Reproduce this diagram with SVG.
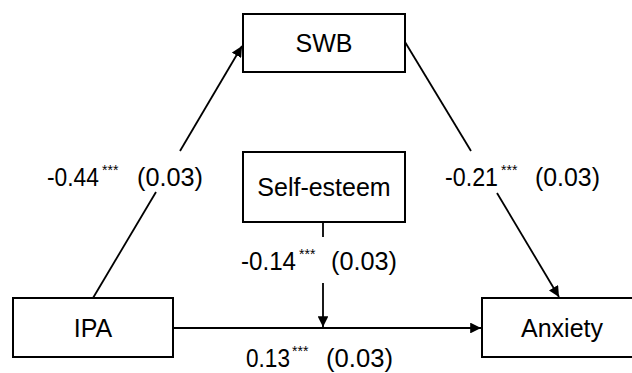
<svg xmlns="http://www.w3.org/2000/svg" width="632" height="373" viewBox="0 0 632 373">
  <defs>
    <marker id="arr" viewBox="0 0 10 10" refX="10" refY="5" markerWidth="6" markerHeight="6" markerUnits="strokeWidth" orient="auto">
      <path d="M0,0 L10,5 L0,10 z" fill="#000"/>
    </marker>
    <style>
      .box { fill: #fff; stroke: #000; stroke-width: 2; }
      .lbl { font-family: "Liberation Sans", Arial, sans-serif; font-size: 25px; fill: #000; }
      .coef { font-family: "Liberation Sans", Arial, sans-serif; font-size: 26px; fill: #000; }
      .sup { font-family: "Liberation Sans", Arial, sans-serif; font-size: 14px; fill: #000; }
      .edge { stroke: #000; stroke-width: 1.8; fill: none; }
    </style>
  </defs>
  <rect width="632" height="373" fill="#fff"/>

  <g id="connectors">
    <line class="edge" x1="93" y1="298" x2="156" y2="192"/>
    <line class="edge" x1="180" y1="151" x2="242" y2="46" marker-end="url(#arr)"/>
    <line class="edge" x1="405" y1="42" x2="471" y2="151"/>
    <line class="edge" x1="497" y1="193" x2="559" y2="297" marker-end="url(#arr)"/>
    <line class="edge" x1="323" y1="222" x2="323" y2="237"/>
    <line class="edge" x1="323" y1="283" x2="323" y2="327" marker-end="url(#arr)"/>
    <line class="edge" x1="173" y1="328" x2="481" y2="328" marker-end="url(#arr)"/>
  </g>

  <g id="SWB">
    <rect class="box" x="243" y="14" width="162" height="58"/>
    <text class="lbl" x="324" y="52" text-anchor="middle">SWB</text>
  </g>
  <g id="SelfEsteem">
    <rect class="box" x="243" y="152" width="162" height="70"/>
    <text class="lbl" x="324" y="196" text-anchor="middle">Self-esteem</text>
  </g>
  <g id="IPA">
    <rect class="box" x="13" y="298" width="160" height="59"/>
    <text class="lbl" x="93" y="337" text-anchor="middle">IPA</text>
  </g>
  <g id="Anxiety">
    <rect class="box" x="482" y="298" width="160" height="59"/>
    <text class="lbl" x="562" y="337" text-anchor="middle">Anxiety</text>
  </g>

  <g id="label-ipa-swb">
    <text class="coef" x="47" y="186" textLength="52" lengthAdjust="spacingAndGlyphs">-0.44</text>
    <text class="sup" x="102" y="175">***</text>
    <text class="coef" x="137" y="186" textLength="66" lengthAdjust="spacingAndGlyphs">(0.03)</text>
  </g>
  <g id="label-swb-anxiety">
    <text class="coef" x="445" y="186" textLength="53" lengthAdjust="spacingAndGlyphs">-0.21</text>
    <text class="sup" x="501" y="175">***</text>
    <text class="coef" x="535" y="186" textLength="65" lengthAdjust="spacingAndGlyphs">(0.03)</text>
  </g>
  <g id="label-selfesteem">
    <text class="coef" x="241" y="270" textLength="55" lengthAdjust="spacingAndGlyphs">-0.14</text>
    <text class="sup" x="299" y="259">***</text>
    <text class="coef" x="331" y="270" textLength="66" lengthAdjust="spacingAndGlyphs">(0.03)</text>
  </g>
  <g id="label-ipa-anxiety">
    <text class="coef" x="246" y="367" textLength="44" lengthAdjust="spacingAndGlyphs">0.13</text>
    <text class="sup" x="292" y="356">***</text>
    <text class="coef" x="326" y="367" textLength="67" lengthAdjust="spacingAndGlyphs">(0.03)</text>
  </g>
</svg>
